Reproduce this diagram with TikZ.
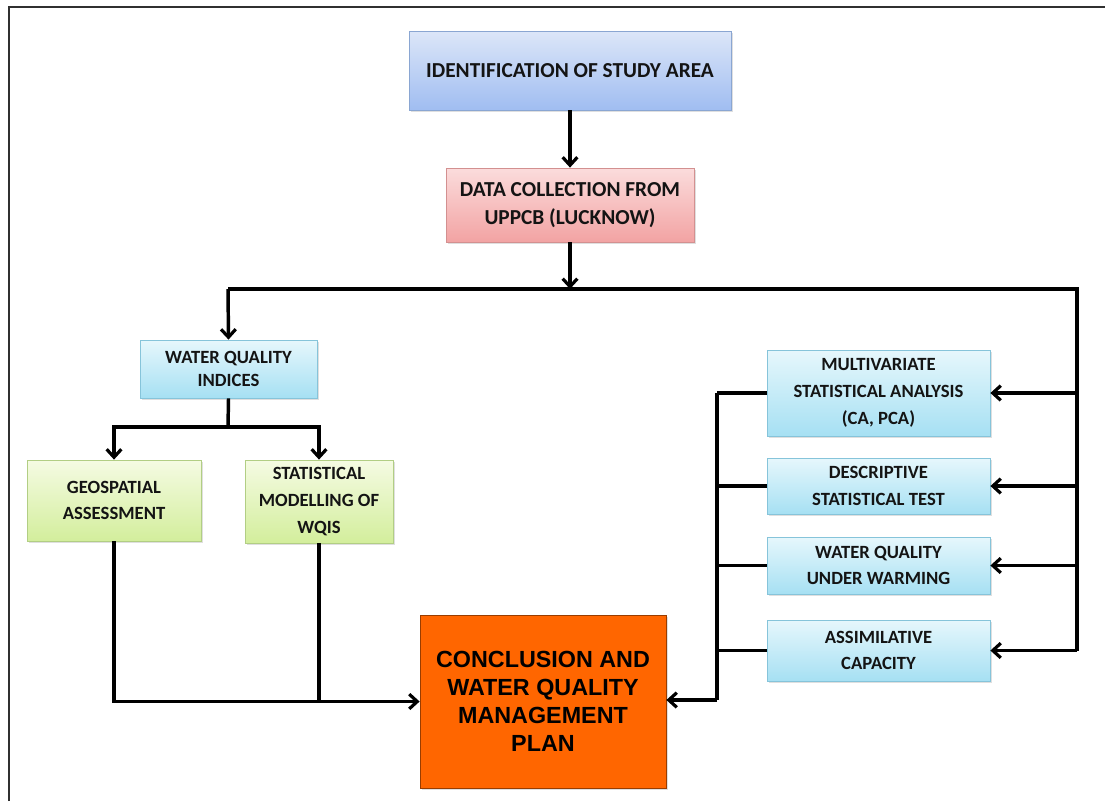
\documentclass[tikz,border=0pt]{standalone}
\usepackage{fontspec}
\setmainfont{Carlito}
\newfontfamily\heavyfont{Liberation Sans}
\usetikzlibrary{arrows.meta,shadows}
\definecolor{frameline}{HTML}{303030}
\definecolor{bluetop}{HTML}{DCE6F8}
\definecolor{bluebot}{HTML}{A0BDF1}
\definecolor{blueedge}{HTML}{8AA6D2}
\definecolor{pinktop}{HTML}{FBDCDC}
\definecolor{pinkbot}{HTML}{F2A3A3}
\definecolor{pinkedge}{HTML}{D39090}
\definecolor{cyantop}{HTML}{E6F7FC}
\definecolor{cyanbot}{HTML}{A6E0F3}
\definecolor{cyanedge}{HTML}{86C4DA}
\definecolor{greentop}{HTML}{F5FBE3}
\definecolor{greenbot}{HTML}{D3EE9C}
\definecolor{greenedge}{HTML}{B2CE84}
\definecolor{conclfill}{HTML}{FF6600}
\definecolor{textdark}{HTML}{141414}
\tikzset{
  box/.style={draw, line width=0.6pt, align=center, inner sep=2pt, text=textdark,
    font=\bfseries, drop shadow={opacity=0.25, shadow xshift=1.2pt, shadow yshift=-1.2pt}},
  bluebox/.style={box, draw=blueedge, top color=bluetop, bottom color=bluebot},
  pinkbox/.style={box, draw=pinkedge, top color=pinktop, bottom color=pinkbot},
  cyanbox/.style={box, draw=cyanedge, top color=cyantop, bottom color=cyanbot,
    font=\bfseries\fontsize{14}{20}\selectfont},
  greenbox/.style={box, draw=greenedge, top color=greentop, bottom color=greenbot,
    font=\bfseries\fontsize{14}{20}\selectfont},
  flow/.style={line width=2.6pt, black},
  flowto/.style={flow, -{Straight Barb[length=6pt, width=11pt, line width=2.4pt]}},
}
\begin{document}
\begin{tikzpicture}[x=0.75pt, y=-0.75pt]
  \useasboundingbox (0,0) rectangle (1105,801);
  % partial outer frame
  \draw[frameline, line width=1.2pt] (9,801) -- (9,7) -- (1105,7);

  % main chain
  \node[bluebox, minimum width=241.5pt, minimum height=59.25pt,
    font=\bfseries\fontsize{16}{19}\selectfont] (ident) at (570,70.5) {IDENTIFICATION OF STUDY AREA};
  \node[pinkbox, minimum width=186pt, minimum height=55.5pt,
    font=\bfseries\fontsize{16}{21}\selectfont] (datacol) at (570,205) {DATA COLLECTION FROM\\UPPCB (LUCKNOW)};

  % left branch
  \node[cyanbox, minimum width=132.75pt, minimum height=43.5pt,
    font=\bfseries\fontsize{14}{17}\selectfont] (wqi) at (228.5,369) {WATER QUALITY\\INDICES};
  \node[greenbox, minimum width=130.5pt, minimum height=60.75pt] (geo) at (114,500.5) {GEOSPATIAL\\ASSESSMENT};
  \node[greenbox, minimum width=111pt, minimum height=62.25pt] (statmod) at (319,501.5) {STATISTICAL\\MODELLING OF\\WQIS};

  % right branch
  \node[cyanbox, minimum width=167.25pt, minimum height=64.5pt] (mva) at (878.5,393) {MULTIVARIATE\\STATISTICAL ANALYSIS\\(CA, PCA)};
  \node[cyanbox, minimum width=167.25pt, minimum height=42pt] (desc) at (878.5,486) {DESCRIPTIVE\\STATISTICAL TEST};
  \node[cyanbox, minimum width=167.25pt, minimum height=42.75pt] (warm) at (878.5,565.5) {WATER QUALITY\\UNDER WARMING};
  \node[cyanbox, minimum width=167.25pt, minimum height=45.75pt] (assim) at (878.5,650.5) {ASSIMILATIVE\\CAPACITY};

  % result
  \node[box, draw=conclfill!60!black, fill=conclfill, minimum width=184.5pt, minimum height=129.75pt,
    font=\heavyfont\bfseries\fontsize{17.5}{21}\selectfont, text=black] (concl) at (543,701.5)
    {CONCLUSION AND\\WATER QUALITY\\MANAGEMENT\\PLAN};

  \coordinate (busL) at (228,289);
  \coordinate (busR) at (1077,289);
  \coordinate (split) at (228,427);
  \coordinate (collect) at (717,700);

  \draw[flowto] (ident) -- (datacol);
  \draw[flowto] (datacol.south) -- (datacol.south |- busL);
  \draw[flow] (busL) -- (busR) -- (busR |- assim.east);
  \draw[flowto] (busL) -- (wqi.north);
  \foreach \tgt in {mva, desc, warm, assim}
    \draw[flowto] (busR |- \tgt.east) -- (\tgt.east);

  \draw[flow] (wqi.south) -- (split);
  \draw[flowto] (split) -| (geo.north);
  \draw[flowto] (split) -| (statmod.north);
  \draw[flowto] (geo.south) |- (concl.west);
  \draw[flow] (statmod.south) -- (statmod.south |- concl.west);

  \foreach \src in {mva, desc, warm, assim}
    \draw[flow] (\src.west) -- (collect |- \src.west);
  \draw[flow] (collect |- mva.west) -- (collect);
  \draw[flowto, line width=3.4pt] (collect) -- (collect -| concl.east);
\end{tikzpicture}
\end{document}
